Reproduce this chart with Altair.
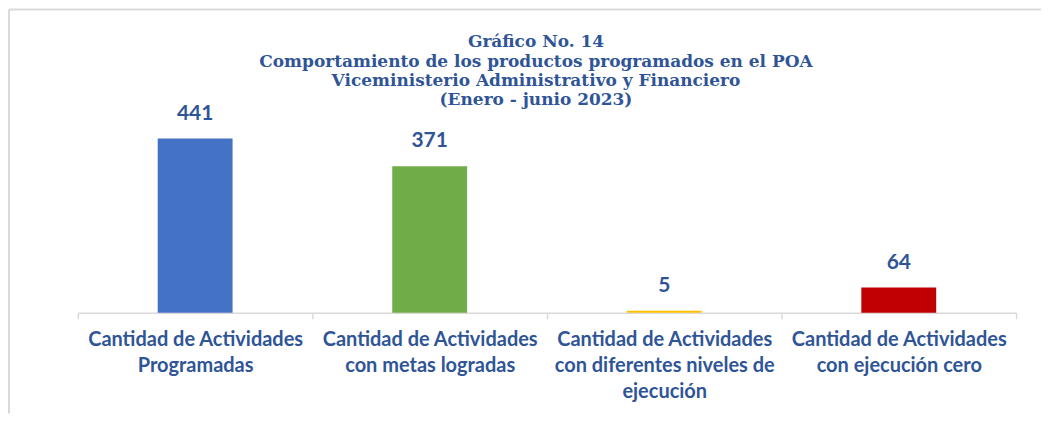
import altair as alt
import pandas as pd

categories = [
    "Cantidad de Actividades|Programadas",
    "Cantidad de Actividades|con metas logradas",
    "Cantidad de Actividades|con diferentes niveles de|ejecución",
    "Cantidad de Actividades|con ejecución cero",
]
values = [441, 371, 5, 64]
colors = ["#4472C4", "#70AD47", "#FFC000", "#C00000"]
title_lines = [
    "Gráfico No. 14",
    "Comportamiento de los productos programados en el POA",
    "Viceministerio Administrativo y Financiero",
    "(Enero - junio 2023)",
]

df = pd.DataFrame({"cat": categories, "val": values, "color": colors})
one = pd.DataFrame({"a": [0]})

TEXT = "#2F5597"
GRID = "#D9D9D9"
W, H = 940, 304

xenc = alt.X(
    "cat:N",
    sort=categories,
    scale=alt.Scale(paddingInner=0, paddingOuter=0),
    axis=alt.Axis(
        title=None,
        labelAngle=0,
        labelExpr="split(datum.label, '|')",
        tickBand="extent",
    ),
)
yenc = alt.Y("val:Q", scale=alt.Scale(domain=[0, 768], nice=False), axis=None)

bars = alt.Chart(df).mark_bar(size=75).encode(
    x=xenc, y=yenc, color=alt.Color("color:N", scale=None)
)
labels = alt.Chart(df).mark_text(
    dy=-19, baseline="alphabetic", font="Lato", fontWeight="bold",
    fontSize=21, color=TEXT,
).encode(x=alt.X("cat:N", sort=categories), y="val:Q", text="val:Q")

border_top = alt.Chart(one).mark_rule(color=GRID, strokeWidth=2).encode(
    x=alt.value(-69), x2=alt.value(965), y=alt.value(0)
)
border_left = alt.Chart(one).mark_rule(color=GRID, strokeWidth=2).encode(
    x=alt.value(-69), y=alt.value(0), y2=alt.value(405)
)
title = alt.Chart(one).mark_text(
    font="DejaVu Serif", fontWeight="bold", fontSize=17, color=TEXT,
    lineHeight=19.3, baseline="middle", align="center",
).encode(x=alt.value(459), y=alt.value(33), text=alt.value(title_lines))

chart = (
    alt.layer(border_top, border_left, title, bars, labels)
    .properties(width=W, height=H, padding=0, background="white")
    .configure_view(stroke=None)
    .configure_axis(
        domainColor=GRID, domainWidth=1.5, tickColor=GRID, tickWidth=1.5,
        tickSize=6, labelFont="Lato", labelFontWeight="bold", labelFontSize=20,
        labelColor=TEXT, labelLineHeight=26, labelPadding=11, labelLimit=400,
    )
)

chart.save("out.html", embed_options={"renderer": "svg", "actions": False})
